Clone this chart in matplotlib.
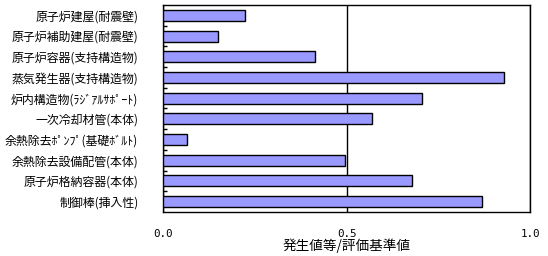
import matplotlib
matplotlib.use("Agg")
import matplotlib.pyplot as plt
import numpy as np
from matplotlib.ticker import FixedLocator

plt.rcParams['font.family'] = ['Noto Sans CJK JP', 'DejaVu Sans']

categories = [
    "原子炉建屋(耐震壁)",
    "原子炉補助建屋(耐震壁)",
    "原子炉容器(支持構造物)",
    "蒸気発生器(支持構造物)",
    "炉内構造物(ﾗｼﾞｱﾙｻﾎﾟｰﾄ)",
    "一次冷却材管(本体)",
    "余熱除去ﾎﾟﾝﾌﾟ(基礎ﾎﾞﾙﾄ)",
    "余熱除去設備配管(本体)",
    "原子炉格納容器(本体)",
    "制御棒(挿入性)",
]
values = [0.223, 0.150, 0.412, 0.927, 0.706, 0.569, 0.064, 0.496, 0.679, 0.869]
xticks = [0.0, 0.5, 1.0]
xticklabels = ["0.0", "0.5", "1.0"]
xlabel = "発生値等/評価基準値"

fig = plt.figure(figsize=(5.48, 2.56), dpi=100)
ax = fig.add_axes([0.298, 0.172, 0.6697, 0.8085])

y = np.arange(len(categories))
ax.barh(y, values, height=0.53, color="#9999FF", edgecolor="black", linewidth=1.0, zorder=3)

ax.set_xlim(0, 1.0)
ax.set_ylim(len(categories) - 0.5, -0.5)
ax.set_yticks(y)
ax.set_yticklabels(categories, fontsize=8.6)
ax.yaxis.set_minor_locator(FixedLocator(np.arange(0.5, len(categories) - 1, 1.0)))
ax.tick_params(axis='y', which='major', length=0, pad=18)
ax.tick_params(axis='y', which='minor', length=3, direction='in', width=1, color='black')

ax.set_xticks(xticks)
ax.set_xticklabels(xticklabels, family='DejaVu Sans Mono', fontsize=7.8)
ax.tick_params(axis='x', which='major', length=0, pad=12)
ax.xaxis.grid(True, color='black', linewidth=1.0, zorder=0)
ax.set_axisbelow(True)
ax.set_xlabel(xlabel, fontsize=9.8, labelpad=0)

for s in ax.spines.values():
    s.set_linewidth(1.0)
    s.set_color('black')

fig.savefig("out.png", dpi=100)
